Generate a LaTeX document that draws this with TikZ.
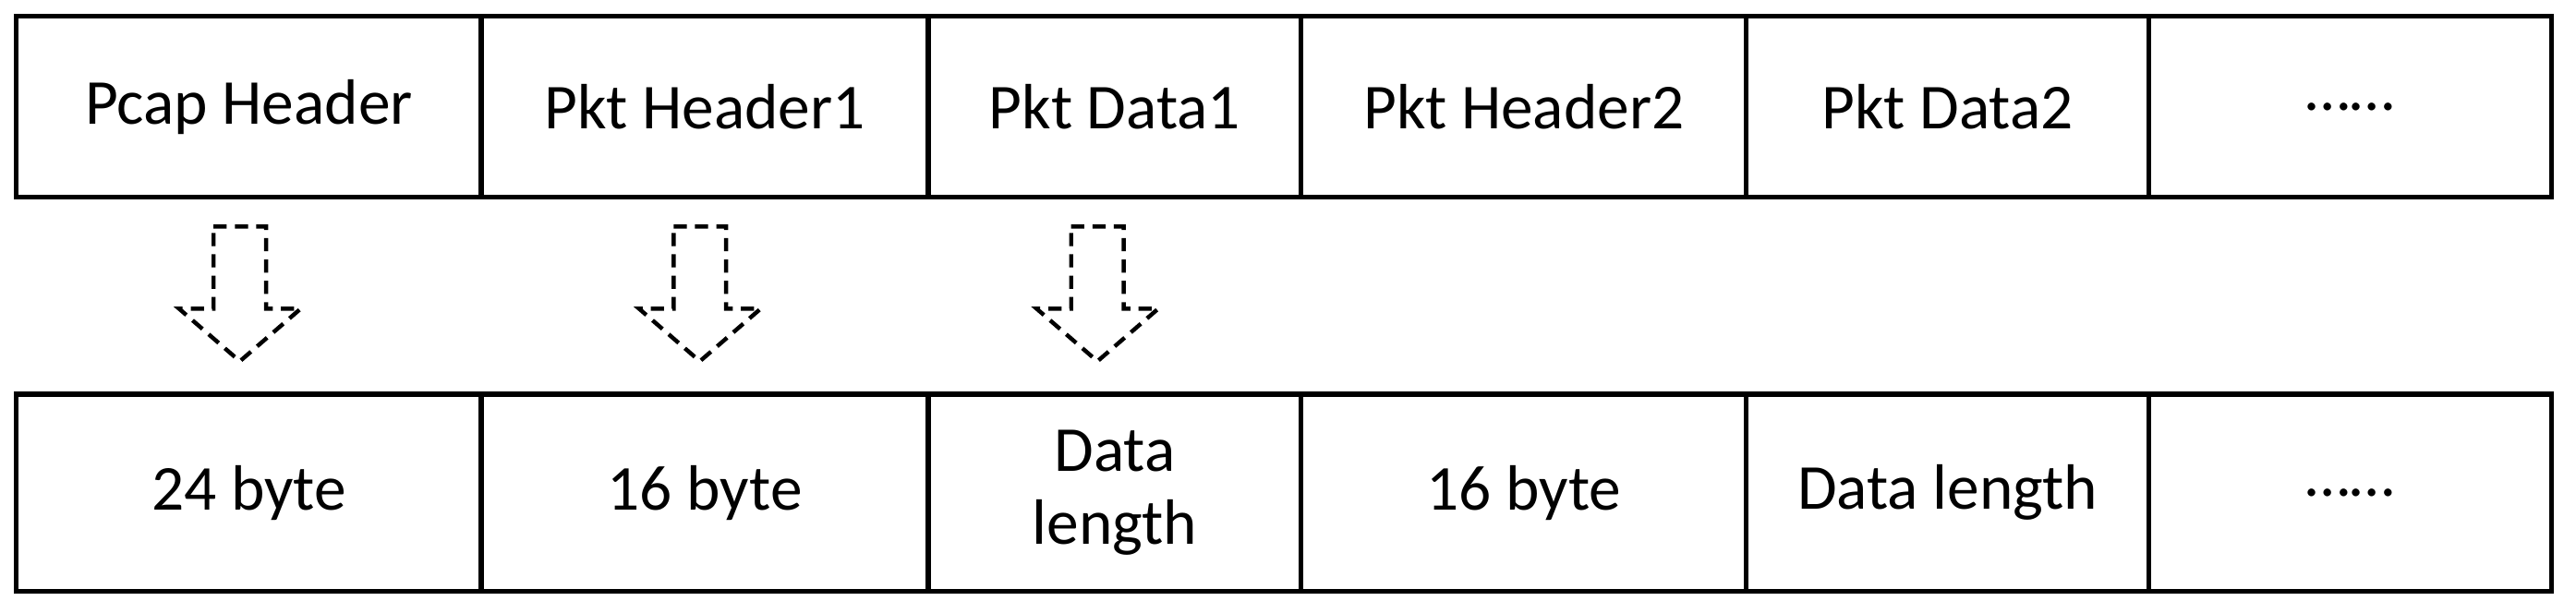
\documentclass[tikz,border=0pt]{standalone}
\usepackage{fontspec}
\setmainfont{Carlito}
\begin{document}
\begin{tikzpicture}[x=1pt,y=-1pt,
  cell/.style={draw,line width=3pt,inner sep=0pt,font=\fontsize{39}{44}\selectfont,align=center},
  darrow/.style={draw,line width=2.5pt,dash pattern=on 8pt off 5pt}]
\useasboundingbox (0,0) rectangle (1568,373);
% top row
\node[cell,minimum width=283pt,minimum height=110pt] (ta) at (151.5,65) {Pcap Header};
\node[cell,minimum width=272pt,minimum height=110pt] (tb) at (429,65) {Pkt Header1};
\node[cell,minimum width=227pt,minimum height=110pt] (tc) at (678.5,65) {Pkt Data1};
\node[cell,minimum width=271pt,minimum height=110pt] (td) at (927.5,65) {Pkt Header2};
\node[cell,minimum width=245pt,minimum height=110pt] (te) at (1185.5,65) {Pkt Data2};
\node[cell,minimum width=245pt,minimum height=110pt] (tf) at (1430.5,65) {\ldots\ldots};
% bottom row
\node[cell,minimum width=283pt,minimum height=120pt] (ba) at (151.5,300) {24 byte};
\node[cell,minimum width=272pt,minimum height=120pt] (bb) at (429,300) {16 byte};
\node[cell,minimum width=227pt,minimum height=120pt] (bc) at (678.5,300) {Data\\length};
\node[cell,minimum width=271pt,minimum height=120pt] (bd) at (927.5,300) {16 byte};
\node[cell,minimum width=245pt,minimum height=120pt] (be) at (1185.5,300) {Data length};
\node[cell,minimum width=245pt,minimum height=120pt] (bf) at (1430.5,300) {\ldots\ldots};
\foreach \cx in {146,426,668}{
  \draw[darrow] (\cx-16,138) -- (\cx+16,138) -- (\cx+16,188) -- (\cx+37,188) -- (\cx,220) -- (\cx-37,188) -- (\cx-16,188) -- cycle;
}
\end{tikzpicture}
\end{document}
